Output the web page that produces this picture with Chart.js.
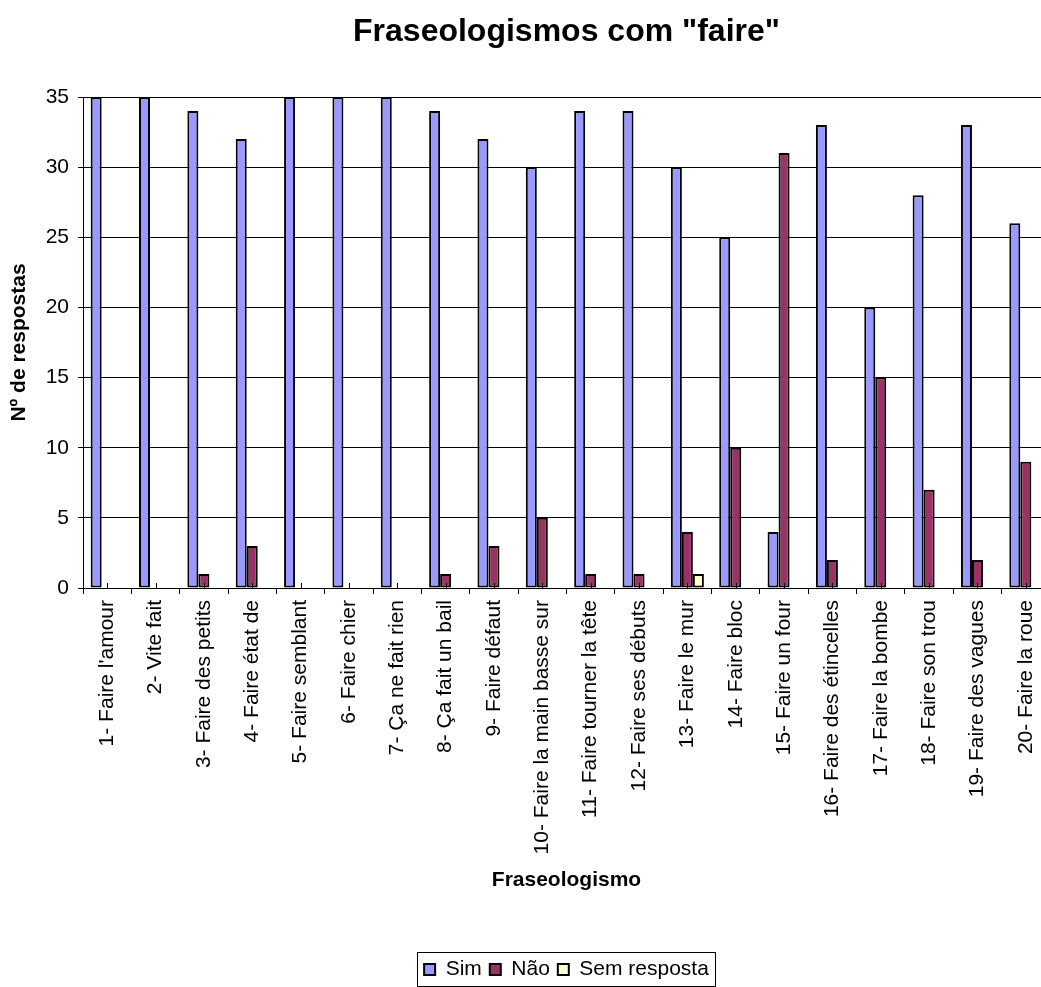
<!DOCTYPE html>
<html>
<head>
<meta charset="utf-8">
<title>Fraseologismos com "faire"</title>
<script src="https://cdn.jsdelivr.net/npm/chart.js@4"></script>
<style>
  html, body { margin: 0; padding: 0; overflow: hidden; background: #fff; }
  #wrap { width: 1133px; height: 987px; }
</style>
</head>
<body>
<div id="wrap"><canvas id="chart" width="1133" height="987"></canvas></div>
<script>
const categories = [
    "1- Faire l'amour",
    "2- Vite fait",
    "3- Faire des petits",
    "4- Faire état de",
    "5- Faire semblant",
    "6- Faire chier",
    "7- Ça ne fait rien",
    "8- Ça fait un bail",
    "9- Faire défaut",
    "10- Faire la main basse sur",
    "11- Faire tourner la tête",
    "12- Faire ses débuts",
    "13- Faire le mur",
    "14- Faire bloc",
    "15- Faire un four",
    "16- Faire des étincelles",
    "17- Faire la bombe",
    "18- Faire son trou",
    "19- Faire des vagues",
    "20- Faire la roue"
];

const sim         = [35, 35, 34, 32, 35, 35, 35, 34, 32, 30, 34, 34, 30, 25, 4, 33, 20, 28, 33, 26];
const nao         = [0, 0, 1, 3, 0, 0, 0, 1, 3, 5, 1, 1, 4, 10, 31, 2, 15, 7, 2, 9];
const semResposta = [0, 0, 0, 0, 0, 0, 0, 0, 0, 0, 0, 0, 1, 0, 0, 0, 0, 0, 0, 0];

const Y_MIN = 0;
const Y_MAX = 35;
const Y_STEP = 5;

Chart.defaults.font.family = '"Liberation Sans", Arial, sans-serif';
Chart.defaults.color = "#000";

// frame around the legend items
const legendFrame = {
    id: "legendFrame",
    afterDraw(chart) {
        const boxes = chart.legend && chart.legend.legendHitBoxes;
        if (!boxes || !boxes.length) return;
        const first = boxes[0];
        const last = boxes[boxes.length - 1];
        const left = first.left - 7;
        const right = last.left + last.width + 6;
        const top = first.top - 7;
        const bottom = first.top + first.height + 6;
        const ctx = chart.ctx;
        ctx.save();
        ctx.strokeStyle = "#000";
        ctx.lineWidth = 1;
        ctx.strokeRect(Math.round(left) + 0.5, Math.round(top) + 0.5,
            Math.round(right - left), Math.round(bottom - top));
        ctx.restore();
    }
};

// small inner marks at the middle of each category on the x axis
const categoryMarks = {
    id: "categoryMarks",
    afterDatasetsDraw(chart) {
        const x = chart.scales.x;
        const ctx = chart.ctx;
        ctx.save();
        ctx.strokeStyle = "#000";
        ctx.lineWidth = 1;
        ctx.beginPath();
        categories.forEach((_, i) => {
            const px = Math.round(x.getPixelForValue(i)) + 0.5;
            ctx.moveTo(px, x.top);
            ctx.lineTo(px, x.top - 5);
        });
        ctx.stroke();
        ctx.restore();
    }
};

const barStyle = {
    borderColor: "#000",
    borderWidth: 2,
    borderSkipped: false,
    categoryPercentage: 0.683,
    barPercentage: 1.0
};

new Chart(document.getElementById("chart").getContext("2d"), {
    type: "bar",
    data: {
        labels: categories,
        datasets: [
            { label: "Sim", data: sim, backgroundColor: "#9999FF", ...barStyle },
            { label: "Não", data: nao, backgroundColor: "#993366", ...barStyle },
            { label: "Sem resposta", data: semResposta, backgroundColor: "#FFFFCC", ...barStyle }
        ]
    },
    options: {
        responsive: false,
        animation: false,
        devicePixelRatio: 1,
        layout: { padding: { top: 13, left: 0, right: 0, bottom: -3 } },
        plugins: {
            title: {
                display: true,
                text: 'Fraseologismos com "faire"',
                font: { size: 32, weight: "bold" },
                color: "#000",
                padding: { top: 0, bottom: 45.6 }
            },
            legend: {
                position: "bottom",
                labels: {
                    boxWidth: 11,
                    boxHeight: 11,
                    padding: 8,
                    font: { size: 21 },
                    color: "#000"
                }
            },
            tooltip: { enabled: false }
        },
        scales: {
            x: {
                grid: {
                    drawOnChartArea: false,
                    drawTicks: true,
                    tickLength: 6,
                    color: "#000"
                },
                border: { display: true, color: "#000", width: 1 },
                ticks: {
                    autoSkip: false,
                    minRotation: 90,
                    maxRotation: 90,
                    padding: 6,
                    font: { size: 21 },
                    color: "#000"
                },
                title: {
                    display: true,
                    text: "Fraseologismo",
                    font: { size: 21, weight: "bold" },
                    color: "#000",
                    padding: { top: 0, bottom: 58 }
                },
                afterFit(scale) { scale.height = 363; }
            },
            y: {
                min: Y_MIN,
                max: Y_MAX,
                ticks: {
                    stepSize: Y_STEP,
                    padding: 9,
                    font: { size: 21 },
                    color: "#000"
                },
                grid: {
                    color: "#000",
                    lineWidth: 1,
                    tickLength: 5,
                    drawTicks: true
                },
                border: { display: true, color: "#000", width: 1 },
                title: {
                    display: true,
                    text: "Nº de respostas",
                    font: { size: 21, weight: "bold" },
                    color: "#000",
                    padding: { top: 7, bottom: 0 }
                },
                afterFit(scale) { scale.width = 83; }
            },
            // empty right-hand axis so the title and legend centre over the plot
            yRight: {
                position: "right",
                display: true,
                ticks: { display: false },
                grid: { display: false, drawTicks: false },
                border: { display: false },
                afterFit(scale) { scale.width = 83; }
            }
        }
    },
    plugins: [legendFrame, categoryMarks]
});
</script>
</body>
</html>
